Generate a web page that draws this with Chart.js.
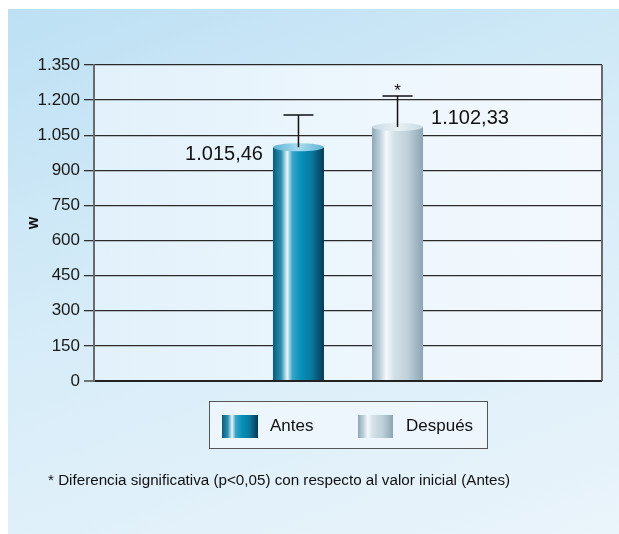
<!DOCTYPE html>
<html>
<head>
<meta charset="utf-8">
<script src="https://cdn.jsdelivr.net/npm/chart.js@4.4.1/dist/chart.umd.min.js"></script>
<style>
  html, body { margin: 0; padding: 0; background: #fff; }
  body { width: 619px; height: 534px; position: relative; overflow: hidden; font-family: "Liberation Sans", Arial, sans-serif; }
  #panel { position: absolute; left: 8px; top: 9px; width: 611px; height: 525px;
    background: linear-gradient(160deg, #bde0f4 0%, #d6ecf8 45%, #eaf4fb 100%); }
  #plotbg { position: absolute; left: 94px; top: 65px; width: 508px; height: 316px;
    background: linear-gradient(90deg, #e2f1fb 0%, #eef7fd 60%, #f2f8fe 100%); }
  #wrap { position: absolute; left: 0; top: 0; width: 619px; height: 534px; }
  #legend { position: absolute; left: 209px; top: 401px; width: 277px; height: 46px;
    border: 1.5px solid #555; background: rgba(245,250,254,0.6); }
  .sw { position: absolute; top: 13px; width: 36px; height: 23px; }
  .lt { position: absolute; top: 12px; font-size: 17px; color: #111; line-height: 24px; }
  #note { position: absolute; left: 48px; top: 471px; font-size: 15.2px; color: #111; white-space: nowrap; }
</style>
</head>
<body>
<div id="panel"></div>
<div id="plotbg"></div>
<div id="wrap"><canvas id="myBarChart" width="619" height="534"></canvas></div>
<div id="legend">
  <div class="sw" style="left:12px;background:linear-gradient(90deg,#0a5c7d 0%,#2a8fb0 16%,#e6f6fb 28%,#3aa3c8 38%,#0590b8 55%,#0a7aa0 75%,#053a55 100%);"></div>
  <div class="lt" style="left:60px;">Antes</div>
  <div class="sw" style="left:148px;width:35px;background:linear-gradient(90deg,#8ea7b5 0%,#c0d2dc 16%,#f5f9fb 28%,#d5e2e8 42%,#bfd0d9 70%,#8ba5b4 100%);"></div>
  <div class="lt" style="left:196px;">Después</div>
</div>
<div id="note">* Diferencia significativa (p&lt;0,05) con respecto al valor inicial (Antes)</div>
<script>
Chart.defaults.font.family = '"Liberation Sans", Arial, sans-serif';
Chart.defaults.color = '#1a1a1a';

const categories = [''];
const seriesNames = ['Antes', 'Después'];
const meanValues = [1015.46, 1102.33];
const errorValues = [121, 115];
const valueLabels = ['1.015,46', '1.102,33'];
const significant = [false, true];
const yTicks = [0, 150, 300, 450, 600, 750, 900, 1050, 1200, 1350];

const colorStops = [
  [[0, '#0a5c7d'], [0.16, '#2a8fb0'], [0.28, '#e6f6fb'], [0.38, '#3aa3c8'], [0.55, '#0590b8'], [0.75, '#0a7aa0'], [1, '#053a55']],
  [[0, '#8ea7b5'], [0.16, '#c0d2dc'], [0.28, '#f5f9fb'], [0.42, '#d5e2e8'], [0.7, '#bfd0d9'], [1, '#8ba5b4']]
];
const topColors = [['#5fb3d3', '#a9dcef'], ['#c9dae3', '#e8f0f4']];

function fmt(v) {
  return String(v).replace(/\B(?=(\d{3})+(?!\d))/g, '.');
}

const cylinderPlugin = {
  id: 'cylinders',
  afterDatasetsDraw(chart) {
    const ctx = chart.ctx;
    const yScale = chart.scales.y;
    chart.data.datasets.forEach((ds, i) => {
      const el = chart.getDatasetMeta(i).data[0];
      const left = el.x - el.width / 2;
      const right = el.x + el.width / 2;
      const r = 4;
      const topY = el.y + r;
      ctx.save();
      const g = ctx.createLinearGradient(left, 0, right, 0);
      colorStops[i].forEach(s => g.addColorStop(s[0], s[1]));
      ctx.fillStyle = g;
      ctx.fillRect(left, topY, el.width, el.base - topY);
      const tg = ctx.createLinearGradient(left, 0, right, 0);
      tg.addColorStop(0, topColors[i][0]);
      tg.addColorStop(0.5, topColors[i][1]);
      tg.addColorStop(1, topColors[i][0]);
      ctx.fillStyle = tg;
      ctx.beginPath();
      ctx.ellipse(el.x, topY, el.width / 2, r, 0, 0, Math.PI * 2);
      ctx.fill();

      // error bar
      const errY = yScale.getPixelForValue(meanValues[i] + errorValues[i]);
      ctx.strokeStyle = '#111';
      ctx.lineWidth = 1.5;
      ctx.beginPath();
      ctx.moveTo(el.x, topY);
      ctx.lineTo(el.x, errY);
      ctx.moveTo(el.x - 15, errY);
      ctx.lineTo(el.x + 15, errY);
      ctx.stroke();

      ctx.fillStyle = '#111';
      if (significant[i]) {
        ctx.font = '17px "Liberation Sans", Arial, sans-serif';
        ctx.textAlign = 'center';
        ctx.textBaseline = 'middle';
        ctx.fillText('*', el.x, errY - 5);
      }
      // value labels
      ctx.font = '20px "Liberation Sans", Arial, sans-serif';
      ctx.textBaseline = 'middle';
      if (i === 0) {
        ctx.textAlign = 'right';
        ctx.fillText(valueLabels[i], left - 10, el.y + 11);
      } else {
        ctx.textAlign = 'left';
        ctx.fillText(valueLabels[i], right + 8, el.y - 4);
      }
      ctx.restore();
    });
    // right border of plot
    const a = chart.chartArea;
    ctx.save();
    ctx.strokeStyle = '#6a6a6a';
    ctx.lineWidth = 2;
    ctx.beginPath();
    ctx.moveTo(a.right, a.top);
    ctx.lineTo(a.right, a.bottom);
    ctx.stroke();
    ctx.restore();
  }
};

const ctxBar = document.getElementById('myBarChart');
new Chart(ctxBar.getContext('2d'), {
  type: 'bar',
  data: {
    labels: categories,
    datasets: seriesNames.map((name, i) => ({
      label: name,
      data: [meanValues[i]],
      backgroundColor: 'rgba(0,0,0,0)',
      borderWidth: 0,
      categoryPercentage: 0.39,
      barPercentage: 0.515
    }))
  },
  options: {
    responsive: false,
    animation: false,
    layout: { padding: { top: 65, right: 17, bottom: 153, left: 0 } },
    scales: {
      x: { display: false },
      y: {
        min: 0,
        max: 1350,
        afterBuildTicks: (scale) => { scale.ticks = yTicks.map(v => ({ value: v })); },
        afterFit: (scale) => { scale.width = 94; },
        ticks: {
          padding: 4,
          font: { size: 17 },
          color: '#1a1a1a',
          callback: (v) => fmt(v)
        },
        grid: {
          color: (c) => c.tick && c.tick.value === 0 ? '#222' : '#2a2a2a',
          lineWidth: (c) => c.tick && c.tick.value === 0 ? 2 : 1.3,
          tickColor: '#333',
          tickLength: 10,
          tickWidth: 1.3
        },
        border: { color: '#6a6a6a', width: 2 },
        title: {
          display: true,
          text: 'w',
          font: { size: 16, weight: 'bold' },
          color: '#111',
          padding: { top: 24, bottom: 0 }
        }
      }
    },
    plugins: {
      legend: { display: false },
      tooltip: { enabled: false }
    }
  },
  plugins: [cylinderPlugin]
});
</script>
</body>
</html>
